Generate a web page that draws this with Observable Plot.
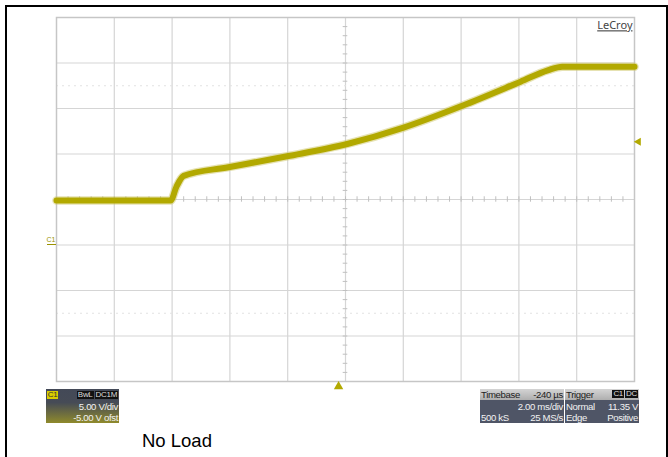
<!DOCTYPE html>
<html><head><meta charset="utf-8">
<script src="https://cdn.jsdelivr.net/npm/d3@7"></script>
<script src="https://cdn.jsdelivr.net/npm/@observablehq/plot@0.6"></script>
<style>
html,body{margin:0;padding:0;background:#fff;}
#wrap{position:relative;width:668px;height:457px;overflow:hidden;font-family:"Liberation Sans",Arial,sans-serif;}
#chart{position:absolute;left:0;top:0;}
#outer{position:absolute;left:5px;top:5px;width:659px;height:470px;border:2px solid #000;border-bottom:none;pointer-events:none;}
.box{position:absolute;font-family:"Liberation Sans",Arial,sans-serif;font-size:9.6px;letter-spacing:-0.35px;color:#f2f2f2;overflow:hidden;}
.row{position:absolute;left:0;right:0;height:11px;line-height:11px;white-space:nowrap;}
.l{position:absolute;left:1px;top:0;}
.r{position:absolute;right:1px;top:0;}
.tag{display:inline-block;background:#111;color:#ddd;padding:0 1px;margin-left:1px;line-height:8px;height:8px;font-size:8px;letter-spacing:-0.3px;vertical-align:top;margin-top:1px;}
#noload{position:absolute;left:142px;top:430px;font-size:18.5px;color:#000;font-family:"Liberation Sans",Arial,sans-serif;}
#gnd{position:absolute;font-size:7px;line-height:7px;color:#9a9200;border-bottom:1px solid #9a9200;width:9px;padding-bottom:1px;font-family:"Liberation Sans",Arial,sans-serif;}
</style></head>
<body>
<div id="wrap">
  <div id="chart"></div>
  <div id="outer"></div>
</div>
<script>
// ---- data ----
const timeMs = [-10, -6.05, -5.85, -5.6, -4.05, -2.02, 0.06, 2.01, 4.04, 6.06, 7.0, 7.5, 10];
const volts  = [4.9, 4.9, 6.4, 7.6, 8.55, 9.75, 11.1, 12.9, 15.3, 17.95, 19.2, 19.6, 19.6];
const xGridTicks = [-8, -6, -4, -2, 0, 2, 4, 6, 8];          // 2.00 ms/div
const yGridTicks = [-10, -5, 0, 5, 10, 15, 20];               // 5.00 V/div
const dottedLevels = [17.5, -7.5];
const triggerLevel = [11.35];
const triggerTime = [-0.24];
const groundLevel = [0];
const brandLabel = ["LeCroy"];
const channelName = ["C1"];
const channelTags = ["BwL", "DC1M"];
const channelLines = ["5.00 V/div", "-5.00 V ofst"];
const timebaseRows = [["Timebase", "-240 µs"], ["", "2.00 ms/div"], ["500 kS", "25 MS/s"]];
const triggerRows = [["Trigger", ""], ["Normal", "11.35 V"], ["Edge", "Positive"]];
const triggerTags = ["C1", "DC"];
const captionText = "No Load";

const trace = timeMs.map((t, i) => ({t, v: volts[i]}));
const olive = "#b2a900";
const xMinor = d3.range(-9.6, 9.7, 0.4).map(d => +d.toFixed(1));
const yMinor = d3.range(-14, 25, 1);

const plot = Plot.plot({
  width: 668, height: 457,
  marginLeft: 56, marginRight: 34, marginTop: 17, marginBottom: 76,
  x: {domain: [-10, 10], axis: null},
  y: {domain: [-15, 25], axis: null},
  style: {background: "transparent"},
  marks: [
    Plot.ruleX(xGridTicks, {stroke: "#d5d5d5", strokeWidth: 1.2}),
    Plot.ruleY(yGridTicks, {stroke: "#d5d5d5", strokeWidth: 1.2}),
    Plot.ruleY(dottedLevels, {stroke: "#e2e2e2", strokeWidth: 1.2, strokeDasharray: "2,4"}),
    Plot.ruleX(xMinor, {y1: 4.7, y2: 5.3, stroke: "#c0c0c0"}),
    Plot.ruleY(yMinor, {x1: -0.08, x2: 0.08, stroke: "#c0c0c0"}),
    Plot.frame({stroke: "#c6c6c6", strokeWidth: 1.5}),
    Plot.line(trace, {x: "t", y: "v", stroke: "#cdc566", strokeWidth: 8.5, strokeOpacity: 0.5, curve: "monotone-x"}),
    Plot.line(trace, {x: "t", y: "v", stroke: olive, strokeWidth: 6, curve: "monotone-x"}),
    Plot.text(brandLabel, {frameAnchor: "top-right", dx: -2, dy: 4, fontSize: 11, fill: "#444", className: "brand"}),
    Plot.dot(triggerLevel, {x: 10, y: d => d, dx: 4, symbol: "triangle", r: 3, rotate: -90, fill: olive, stroke: "none"}),
    Plot.dot(triggerTime, {x: d => d, y: -15, dy: 5, symbol: "triangle", r: 3.5, fill: olive, stroke: "none"})
  ]
});
d3.select(plot).selectAll(".brand text").style("text-decoration", "underline");
document.getElementById("chart").appendChild(plot);

const wrap = document.getElementById("wrap");
// ground marker placed through the plot's own scales
const gnd = document.createElement("div");
gnd.id = "gnd";
gnd.textContent = channelName[0];
const gy = plot.scale("y").apply(groundLevel[0]);
const gx = plot.scale("x").apply(-10);
gnd.style.left = (gx - 9.5) + "px";
gnd.style.top = (gy - 9) + "px";
wrap.appendChild(gnd);

// ---- scope info boxes ----
function box(left, top, w, h, bg) {
  const b = document.createElement("div");
  b.className = "box";
  Object.assign(b.style, {left: left + "px", top: top + "px", width: w + "px", height: h + "px", background: bg});
  wrap.appendChild(b);
  return b;
}
function row(parent, top, left, right, style) {
  const r = document.createElement("div");
  r.className = "row";
  r.style.top = top + "px";
  if (style) Object.assign(r.style, style);
  r.innerHTML = (left ? `<span class="l">${left}</span>` : "") + `<span class="r">${right}</span>`;
  parent.appendChild(r);
  return r;
}
// channel box
const cb = box(46, 389, 73, 34, "linear-gradient(to bottom, #434957 0%, #464b56 40%, #8f8a2c 100%)");
const c1 = document.createElement("div");
Object.assign(c1.style, {position: "absolute", left: "1px", top: "2px", width: "11px", height: "8px", background: "#d9cf00", color: "#333", fontSize: "8px", lineHeight: "8px", textAlign: "center"});
c1.textContent = channelName[0];
cb.appendChild(c1);
const tg = document.createElement("div");
Object.assign(tg.style, {position: "absolute", right: "1px", top: "1px", whiteSpace: "nowrap", lineHeight: "9px"});
tg.innerHTML = channelTags.map(t => `<span class="tag">${t}</span>`).join("");
cb.appendChild(tg);
row(cb, 12, "", channelLines[0]);
row(cb, 22.5, "", channelLines[1]);

// timebase box
const hdr = {background: "linear-gradient(#d4d4d4,#aeaeae)", color: "#222", top: "0px", height: "11px"};
const tb = box(480, 389, 84, 34, "#4f5566");
timebaseRows.forEach((r, i) => row(tb, 1 + i * 11, r[0], r[1], i === 0 ? hdr : null));
// trigger box
const trb = box(565, 389, 74, 34, "#4f5566");
triggerRows.forEach((r, i) => {
  const rr = row(trb, 1 + i * 11, r[0], r[1], i === 0 ? hdr : null);
  if (i === 0) rr.querySelector(".r").innerHTML = triggerTags.map(t => `<span class="tag">${t}</span>`).join("");
});

const cap = document.createElement("div");
cap.id = "noload";
cap.textContent = captionText;
wrap.appendChild(cap);
</script>
</body></html>
